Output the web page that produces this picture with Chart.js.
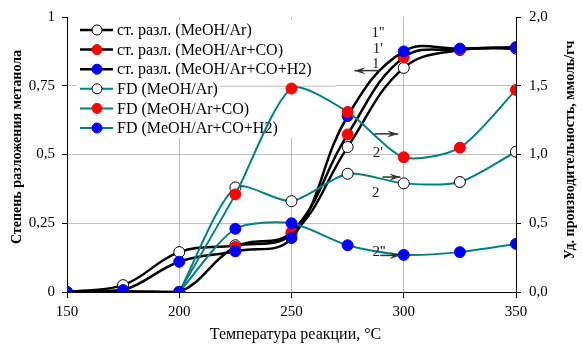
<!DOCTYPE html>
<html>
<head>
<meta charset="utf-8">
<script src="https://cdn.jsdelivr.net/npm/chart.js@4.4.0/dist/chart.umd.min.js"></script>
<style>
  html, body { margin: 0; padding: 0; background: #fff; }
  #wrap { width: 583px; height: 351px; }
</style>
</head>
<body>
<div id="wrap"><canvas id="canvas" width="583" height="351"></canvas></div>
<script>
var temps = [150, 175, 200, 225, 250, 275, 300, 325, 350];
var fdTemps = [200, 225, 250, 275, 300, 325, 350];

// степень разложения (левая ось)
var convAr = [0, 0.025, 0.145, 0.17, 0.21, 0.527, 0.815, 0.88, 0.885];
var convCO = [0, 0.003, 0, 0.164, 0.218, 0.573, 0.853, 0.882, 0.89];
var convH2 = [0, 0.007, 0.11, 0.148, 0.196, 0.64, 0.875, 0.885, 0.89];

// уд. производительность (правая ось)
var fdAr = [0, 0.76, 0.66, 0.86, 0.79, 0.80, 1.02];
var fdCO = [0, 0.71, 1.48, 1.31, 0.98, 1.05, 1.47];
var fdH2 = [0, 0.46, 0.50, 0.34, 0.27, 0.29, 0.35];

var labels = [
  'ст. разл. (MeOH/Ar)',
  'ст. разл. (MeOH/Ar+CO)',
  'ст. разл. (MeOH/Ar+CO+H2)',
  'FD (MeOH/Ar)',
  'FD (MeOH/Ar+CO)',
  'FD (MeOH/Ar+CO+H2)'
];

var TEAL = '#008080';
var FONT = '"Liberation Serif", "Times New Roman", serif';

function pts(xs, ys) {
  return xs.map(function (x, i) { return { x: x, y: ys[i] }; });
}

function series(label, xs, ys, lineColor, fill, edge, axis, width, tension, order) {
  return {
    label: label,
    data: pts(xs, ys),
    yAxisID: axis,
    order: order,
    borderColor: lineColor,
    borderWidth: width,
    pointBackgroundColor: fill,
    pointBorderColor: edge,
    pointBorderWidth: 1,
    pointRadius: 5.5,
    tension: tension,
    fill: false
  };
}

// последние серии рисуются поверх (как в Excel)
var datasets = [
  series(labels[0], temps, convAr, '#000', '#fff', '#000', 'y', 2.5, 0.4, 6),
  series(labels[1], temps, convCO, '#000', '#ff0000', '#ff0000', 'y', 2.5, 0.4, 5),
  series(labels[2], temps, convH2, '#000', '#0000ff', '#0000ff', 'y', 2.5, 0.4, 4),
  series(labels[3], fdTemps, fdAr, TEAL, '#fff', '#000', 'y1', 2, 0.25, 3),
  series(labels[4], fdTemps, fdCO, TEAL, '#ff0000', '#ff0000', 'y1', 2, 0.25, 2),
  series(labels[5], fdTemps, fdH2, TEAL, '#0000ff', '#0000ff', 'y1', 2, 0.25, 1)
];

function arrow(ctx, x1, y, x2) {
  var dir = x2 > x1 ? 1 : -1;
  ctx.save();
  ctx.strokeStyle = '#333';
  ctx.fillStyle = '#333';
  ctx.lineWidth = 1.5;
  ctx.beginPath();
  ctx.moveTo(x1, y);
  ctx.lineTo(x2, y);
  ctx.stroke();
  ctx.beginPath();
  ctx.moveTo(x2, y);
  ctx.lineTo(x2 - dir * 11, y - 3.5);
  ctx.lineTo(x2 - dir * 7, y);
  ctx.lineTo(x2 - dir * 11, y + 3.5);
  ctx.closePath();
  ctx.fill();
  ctx.restore();
}

var decor = {
  id: 'decor',
  beforeDatasetsDraw: function (chart) {
    var ctx = chart.ctx, a = chart.chartArea;
    var ds = chart.data.datasets;
    ctx.save();
    ctx.fillStyle = '#fff';
    ctx.fillRect(a.left + 9, a.top + 3, 260, 118);
    ctx.font = '16px ' + FONT;
    ctx.textBaseline = 'middle';
    for (var i = 0; i < ds.length; i++) {
      var y = a.top + 13 + i * 19.6;
      var x0 = a.left + 13;
      ctx.strokeStyle = ds[i].borderColor;
      ctx.lineWidth = ds[i].borderWidth;
      ctx.beginPath();
      ctx.moveTo(x0, y);
      ctx.lineTo(x0 + 33, y);
      ctx.stroke();
      ctx.beginPath();
      ctx.arc(x0 + 17, y, 5, 0, Math.PI * 2);
      ctx.fillStyle = ds[i].pointBackgroundColor;
      ctx.fill();
      ctx.lineWidth = 1;
      ctx.strokeStyle = ds[i].pointBorderColor;
      ctx.stroke();
      ctx.fillStyle = '#000';
      ctx.fillText(ds[i].label, x0 + 37, y + 1);
      if (i === 3) {
        // линия сетки 0,75 видна справа от подписи
        var gy = chart.scales.y.getPixelForValue(0.75);
        var tx = x0 + 37 + ctx.measureText(ds[i].label).width + 2;
        ctx.strokeStyle = '#c0c0c0';
        ctx.beginPath();
        ctx.moveTo(tx, gy + 0.5);
        ctx.lineTo(a.left + 269, gy + 0.5);
        ctx.stroke();
      }
    }
    ctx.restore();
  },
  afterDraw: function (chart) {
    var ctx = chart.ctx, a = chart.chartArea;
    var sx = chart.scales.x, sy = chart.scales.y;
    ctx.save();
    ctx.fillStyle = '#000';
    ctx.textAlign = 'center';
    ctx.textBaseline = 'middle';

    // подписи осей
    ctx.font = '16px ' + FONT;
    ctx.fillText('Температура реакции, °С', (a.left + a.right) / 2 + 4, a.bottom + 43);

    ctx.font = 'bold 14px ' + FONT;
    ctx.save();
    ctx.translate(17, 147);
    ctx.rotate(-Math.PI / 2);
    ctx.fillText('Степень разложения метанола', 0, 0);
    ctx.restore();

    ctx.save();
    ctx.translate(a.right + 54, 150);
    ctx.rotate(-Math.PI / 2);
    ctx.fillText('Уд. производительность, ммоль/гч', 0, 0);
    ctx.restore();

    // обозначения кривых
    ctx.font = '15px ' + FONT;
    ctx.fillStyle = '#1a1a1a';
    var notes = [
      ["1''", 288.5, 0.94],
      ["1'", 288.5, 0.885],
      ['1', 287.5, 0.83],
      ["2'", 288.5, 0.505],
      ['2', 287.5, 0.36],
      ["2''", 289, 0.145]
    ];
    notes.forEach(function (n) {
      ctx.fillText(n[0], sx.getPixelForValue(n[1]), sy.getPixelForValue(n[2]));
    });

    arrow(ctx, sx.getPixelForValue(289.5), sy.getPixelForValue(0.805), sx.getPixelForValue(278));
    arrow(ctx, sx.getPixelForValue(287), sy.getPixelForValue(0.575), sx.getPixelForValue(297.5));
    arrow(ctx, sx.getPixelForValue(290.5), sy.getPixelForValue(0.418), sx.getPixelForValue(298.5));
    arrow(ctx, sx.getPixelForValue(289.5), sy.getPixelForValue(0.133), sx.getPixelForValue(298.5));
    ctx.restore();
  }
};

window.onload = function () {
  var ctx = document.getElementById('canvas').getContext('2d');
  window.myChart = new Chart(ctx, {
    type: 'line',
    data: { datasets: datasets },
    plugins: [decor],
    options: {
      responsive: false,
      animation: false,
      devicePixelRatio: 1,
      layout: { padding: { top: 17, left: 0, right: 0, bottom: 0 } },
      plugins: {
        legend: { display: false },
        title: { display: false },
        tooltip: { enabled: false }
      },
      scales: {
        x: {
          type: 'linear',
          min: 150,
          max: 350,
          ticks: {
            stepSize: 50,
            color: '#000',
            padding: 5,
            font: { family: FONT, size: 15 }
          },
          grid: {
            color: function (c) {
              var v = c.tick ? c.tick.value : 0;
              return (v === 150 || v === 350) ? 'rgba(0,0,0,0)' : '#c0c0c0';
            },
            tickColor: '#000',
            tickLength: 6
          },
          border: { color: '#000', width: 1 },
          afterFit: function (s) { s.height = 59; }
        },
        y: {
          type: 'linear',
          position: 'left',
          min: 0,
          max: 1,
          ticks: {
            stepSize: 0.25,
            color: '#000',
            padding: 7,
            font: { family: FONT, size: 15 },
            callback: function (v) { return String(v).replace('.', ','); }
          },
          grid: {
            color: function (c) {
              var v = c.tick ? c.tick.value : 0;
              return (v > 0 && v < 1) ? '#c0c0c0' : 'rgba(0,0,0,0)';
            },
            tickColor: '#000',
            tickLength: 5
          },
          border: { color: '#000', width: 1 },
          afterFit: function (s) { s.width = 67; }
        },
        y1: {
          type: 'linear',
          position: 'right',
          min: 0,
          max: 2,
          ticks: {
            stepSize: 0.5,
            color: '#000',
            padding: 8,
            font: { family: FONT, size: 15 },
            callback: function (v) { return v.toFixed(1).replace('.', ','); }
          },
          grid: {
            drawOnChartArea: false,
            tickColor: '#000',
            tickLength: 5
          },
          border: { color: '#000', width: 1 },
          afterFit: function (s) { s.width = 67; }
        }
      }
    }
  });
};
</script>
</body>
</html>
